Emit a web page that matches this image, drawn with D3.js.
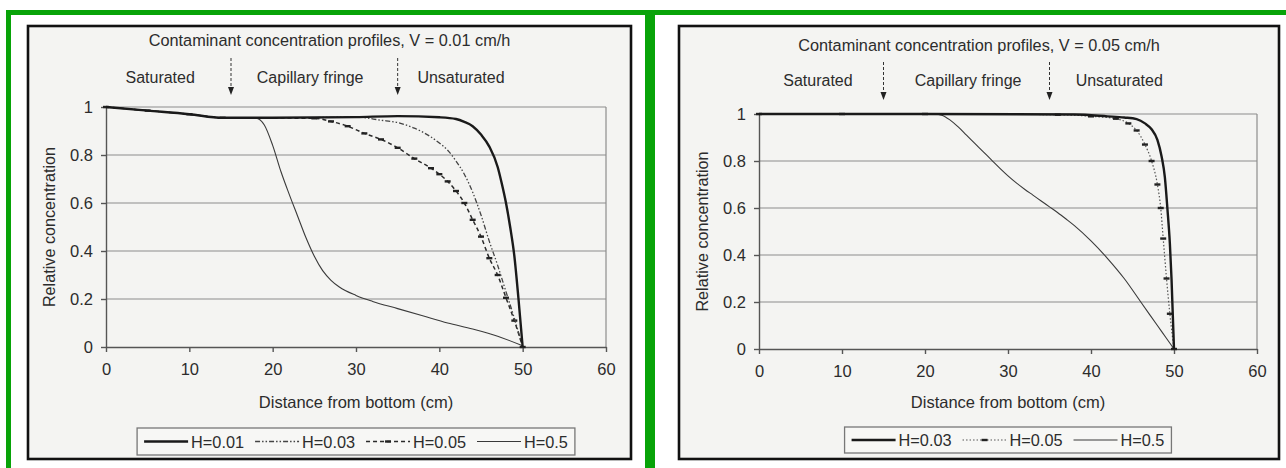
<!DOCTYPE html>
<html>
<head>
<meta charset="utf-8">
<script src="https://cdn.jsdelivr.net/npm/d3@7"></script>
<style>
  body { margin: 0; background: #fff; }
  text { font-family: "Liberation Sans", Arial, sans-serif; fill: #2c2c2c; }
</style>
</head>
<body>
<div id="chart"></div>
<script>
// ---- data: [distance (cm), relative concentration] ----
// V = 0.01 cm/h
var v001_h001 = [[0,1],[5,0.985],[10,0.97],[14,0.955],[20,0.955],[30,0.958],[35,0.962],[40,0.957],[42,0.95],[43,0.938],[44,0.92],[45,0.885],[46,0.835],[47,0.75],[47.5,0.68],[48,0.6],[48.5,0.5],[49,0.38],[49.5,0.2],[50,0]];
var v001_h003 = [[0,1],[5,0.985],[10,0.97],[14,0.955],[25,0.956],[30,0.958],[33,0.945],[35,0.935],[37,0.912],[39,0.875],[40,0.85],[41,0.82],[42,0.775],[43,0.72],[44,0.645],[45,0.55],[46,0.44],[47,0.34],[48,0.23],[49,0.12],[50,0]];
var v001_h005 = [[0,1],[5,0.985],[10,0.97],[14,0.955],[25,0.953],[27,0.94],[29,0.92],[31,0.89],[33,0.865],[35,0.83],[37,0.785],[39,0.745],[40,0.72],[41,0.69],[42,0.65],[43,0.6],[44,0.53],[45,0.46],[46,0.37],[47,0.3],[48,0.205],[49,0.11],[50,0]];
var v001_h05  = [[0,1],[5,0.985],[10,0.97],[14,0.955],[18,0.953],[19,0.925],[20,0.84],[21,0.73],[22,0.635],[23,0.545],[24,0.455],[25,0.378],[26,0.318],[27,0.278],[28,0.25],[30,0.215],[32,0.19],[35,0.16],[38,0.13],[41,0.1],[44,0.075],[47,0.045],[50,0.005]];

// V = 0.05 cm/h
var v005_h003 = [[0,1],[20,1],[38,0.998],[42,0.99],[44,0.985],[45.5,0.978],[46.5,0.96],[47.3,0.935],[48,0.89],[48.5,0.82],[48.9,0.73],[49.2,0.6],[49.5,0.45],[49.7,0.3],[50,0]];
var v005_h005 = [[0,1],[10,1],[20,1],[36,0.997],[40,0.99],[43,0.98],[44.5,0.96],[45.5,0.93],[46.5,0.87],[47.3,0.8],[48,0.7],[48.4,0.6],[48.7,0.47],[49.1,0.3],[49.5,0.15],[50,0]];
var v005_h05  = [[0,1],[21,1],[22,0.995],[23,0.975],[24,0.945],[25,0.91],[26,0.875],[27,0.84],[28,0.805],[29,0.77],[30,0.737],[31,0.707],[32,0.68],[33,0.655],[34,0.63],[35,0.605],[36,0.58],[37,0.553],[38,0.525],[40,0.46],[42,0.385],[44,0.3],[46,0.2],[48,0.1],[49,0.05],[50,0]];

var xTicks = [0,10,20,30,40,50,60];
var yTicks = [0,0.2,0.4,0.6,0.8,1];
var zoneNames = ["Saturated","Capillary fringe","Unsaturated"];
var zoneBounds = [15,35];   // arrows
var titles = ["Contaminant concentration profiles, V = 0.01 cm/h",
              "Contaminant concentration profiles, V = 0.05 cm/h"];

var W = 1286, H = 468;
var svg = d3.select('#chart').append('svg')
            .attr('width', W)
            .attr('height', H);

// line styles
var styles = {
  thick:   {w: 2.4, c: '#1a1a1a', dash: null,            mark: false},
  dashdot: {w: 1.3, c: '#444',    dash: '5,2,1.5,2,1.5,2', mark: false},
  dashmk:  {w: 1.5, c: '#2a2a2a', dash: '4,3',             mark: true},
  dotmk:   {w: 1.2, c: '#555',    dash: '1.5,2',           mark: true},
  thin:    {w: 1.1, c: '#3a3a3a', dash: null,            mark: false}
};

var panels = [
  { green: [8.5, 12.5, 639, 500], frame: [28, 26, 603, 433],
    plot: {x0: 106, x1: 606, y0: 107, y1: 347}, titleY: 46, zoneY: 83, arrowY: [58, 95],
    zoneX: [6.5, 24.5, 42.6], title: titles[0], legendY: [428, 455],
    series: [
      {name: 'H=0.01', data: v001_h001, st: 'thick'},
      {name: 'H=0.03', data: v001_h003, st: 'dashdot'},
      {name: 'H=0.05', data: v001_h005, st: 'dashmk'},
      {name: 'H=0.5',  data: v001_h05,  st: 'thin'}
    ]},
  { green: [652.5, 12.5, 700, 500], frame: [679, 26, 600, 433],
    plot: {x0: 759, x1: 1257, y0: 114, y1: 349}, titleY: 51, zoneY: 86, arrowY: [62, 100],
    zoneX: [7.1, 25.2, 43.4], title: titles[1], legendY: [427, 453],
    series: [
      {name: 'H=0.03', data: v005_h003, st: 'thick'},
      {name: 'H=0.05', data: v005_h005, st: 'dotmk'},
      {name: 'H=0.5',  data: v005_h05,  st: 'thin'}
    ]}
];

panels.forEach(drawPanel);

function drawPanel(p) {
  var g = svg.append('g');
  var pl = p.plot;

  // green border and scanned page frame
  g.append('rect').attr('x', p.green[0]).attr('y', p.green[1])
    .attr('width', p.green[2]).attr('height', p.green[3])
    .attr('fill', 'none').attr('stroke', '#08a308').attr('stroke-width', 5);
  g.append('rect').attr('x', p.frame[0]).attr('y', p.frame[1])
    .attr('width', p.frame[2]).attr('height', p.frame[3])
    .attr('fill', '#f4f4f2').attr('stroke', '#111').attr('stroke-width', 2.6);

  var x = d3.scaleLinear().domain([0, 60]).range([pl.x0, pl.x1]);
  var y = d3.scaleLinear().domain([0, 1]).range([pl.y1, pl.y0]);

  // gridlines + plot border
  g.selectAll('line.grid').data(yTicks.filter(function(d){ return d > 0; }))
    .join('line').attr('class', 'grid')
    .attr('x1', pl.x0).attr('x2', pl.x1)
    .attr('y1', function(d){ return y(d); }).attr('y2', function(d){ return y(d); })
    .attr('stroke', '#8c8c8c').attr('stroke-width', 1.2);
  g.append('line').attr('x1', pl.x1).attr('x2', pl.x1).attr('y1', pl.y0).attr('y2', pl.y1)
    .attr('stroke', '#8c8c8c').attr('stroke-width', 1.2);

  // axes
  var ax = g.append('g').attr('transform', 'translate(0,' + pl.y1 + ')')
    .call(d3.axisBottom(x).tickValues(xTicks).tickSize(5).tickSizeOuter(0).tickPadding(11));
  var ay = g.append('g').attr('transform', 'translate(' + pl.x0 + ',0)')
    .call(d3.axisLeft(y).tickValues(yTicks).tickSize(5).tickSizeOuter(0).tickPadding(8)
      .tickFormat(d3.format('~g')));
  [ax, ay].forEach(function(a) {
    a.select('.domain').attr('stroke', '#555').attr('stroke-width', 1.4);
    a.selectAll('.tick line').attr('stroke', '#555').attr('stroke-width', 1.4);
    a.selectAll('.tick text').attr('font-size', 16.5).attr('fill', '#2c2c2c')
      .style('font-family', '"Liberation Sans", Arial, sans-serif');
  });

  // axis titles
  g.append('text').attr('x', (pl.x0 + pl.x1) / 2).attr('y', 408)
    .attr('text-anchor', 'middle').attr('font-size', 16.5)
    .text('Distance from bottom (cm)');
  g.append('text')
    .attr('transform', 'translate(' + (pl.x0 - 51) + ',' + ((pl.y0 + pl.y1) / 2) + ') rotate(-90)')
    .attr('text-anchor', 'middle').attr('font-size', 16.2)
    .text('Relative concentration');

  // title and zone labels
  g.append('text').attr('x', p.frame[0] + p.frame[2] / 2).attr('y', p.titleY)
    .attr('text-anchor', 'middle').attr('font-size', 16.3).text(p.title);
  zoneNames.forEach(function(n, i) {
    g.append('text').attr('x', x(p.zoneX[i])).attr('y', p.zoneY)
      .attr('text-anchor', 'middle').attr('font-size', 16).text(n);
  });
  zoneBounds.forEach(function(b) {
    var xx = x(b);
    g.append('line').attr('x1', xx).attr('x2', xx)
      .attr('y1', p.arrowY[0]).attr('y2', p.arrowY[1] - 7)
      .attr('stroke', '#333').attr('stroke-width', 1).attr('stroke-dasharray', '3,2');
    g.append('path')
      .attr('d', 'M' + (xx - 3) + ',' + (p.arrowY[1] - 8) + 'L' + (xx + 3) + ',' + (p.arrowY[1] - 8) + 'L' + xx + ',' + p.arrowY[1] + 'Z')
      .attr('fill', '#222');
  });

  // curves
  var line = d3.line().x(function(d){ return x(d[0]); }).y(function(d){ return y(d[1]); })
               .curve(d3.curveMonotoneX);
  // draw the thin curves first so the thick one sits on top
  var order = p.series.slice().reverse();
  order.forEach(function(s) {
    var st = styles[s.st];
    g.append('path').datum(s.data).attr('d', line)
      .attr('fill', 'none').attr('stroke', st.c).attr('stroke-width', st.w)
      .attr('stroke-dasharray', st.dash);
    if (st.mark) {
      g.selectAll(null).data(s.data).join('line')
        .attr('x1', function(d){ return x(d[0]) - 3; }).attr('x2', function(d){ return x(d[0]) + 3; })
        .attr('y1', function(d){ return y(d[1]); }).attr('y2', function(d){ return y(d[1]); })
        .attr('stroke', '#222').attr('stroke-width', 2.4);
    }
  });

  // legend
  var lg = g.append('g');
  var cy = (p.legendY[0] + p.legendY[1]) / 2;
  var cx = 0;
  p.series.forEach(function(s) {
    var st = styles[s.st];
    var it = lg.append('g').attr('transform', 'translate(' + cx + ',0)');
    it.append('line').attr('x1', 0).attr('x2', 44).attr('y1', cy).attr('y2', cy)
      .attr('stroke', st.c).attr('stroke-width', st.w).attr('stroke-dasharray', st.dash);
    if (st.mark) {
      it.append('line').attr('x1', 19).attr('x2', 25).attr('y1', cy).attr('y2', cy)
        .attr('stroke', '#222').attr('stroke-width', 2.4);
    }
    var t = it.append('text').attr('x', 47).attr('y', cy + 6).attr('font-size', 16.3).text(s.name);
    cx += 47 + t.node().getComputedTextLength() + 11;
  });
  var lw = cx - 11 + 14;
  var lx = (pl.x0 + pl.x1) / 2 - lw / 2;
  lg.attr('transform', 'translate(' + (lx + 7) + ',0)');
  g.insert('rect', function(){ return lg.node(); })
    .attr('x', lx).attr('y', p.legendY[0]).attr('width', lw).attr('height', p.legendY[1] - p.legendY[0])
    .attr('fill', '#f7f7f5').attr('stroke', '#777').attr('stroke-width', 1.3);
}
</script>
</body>
</html>
